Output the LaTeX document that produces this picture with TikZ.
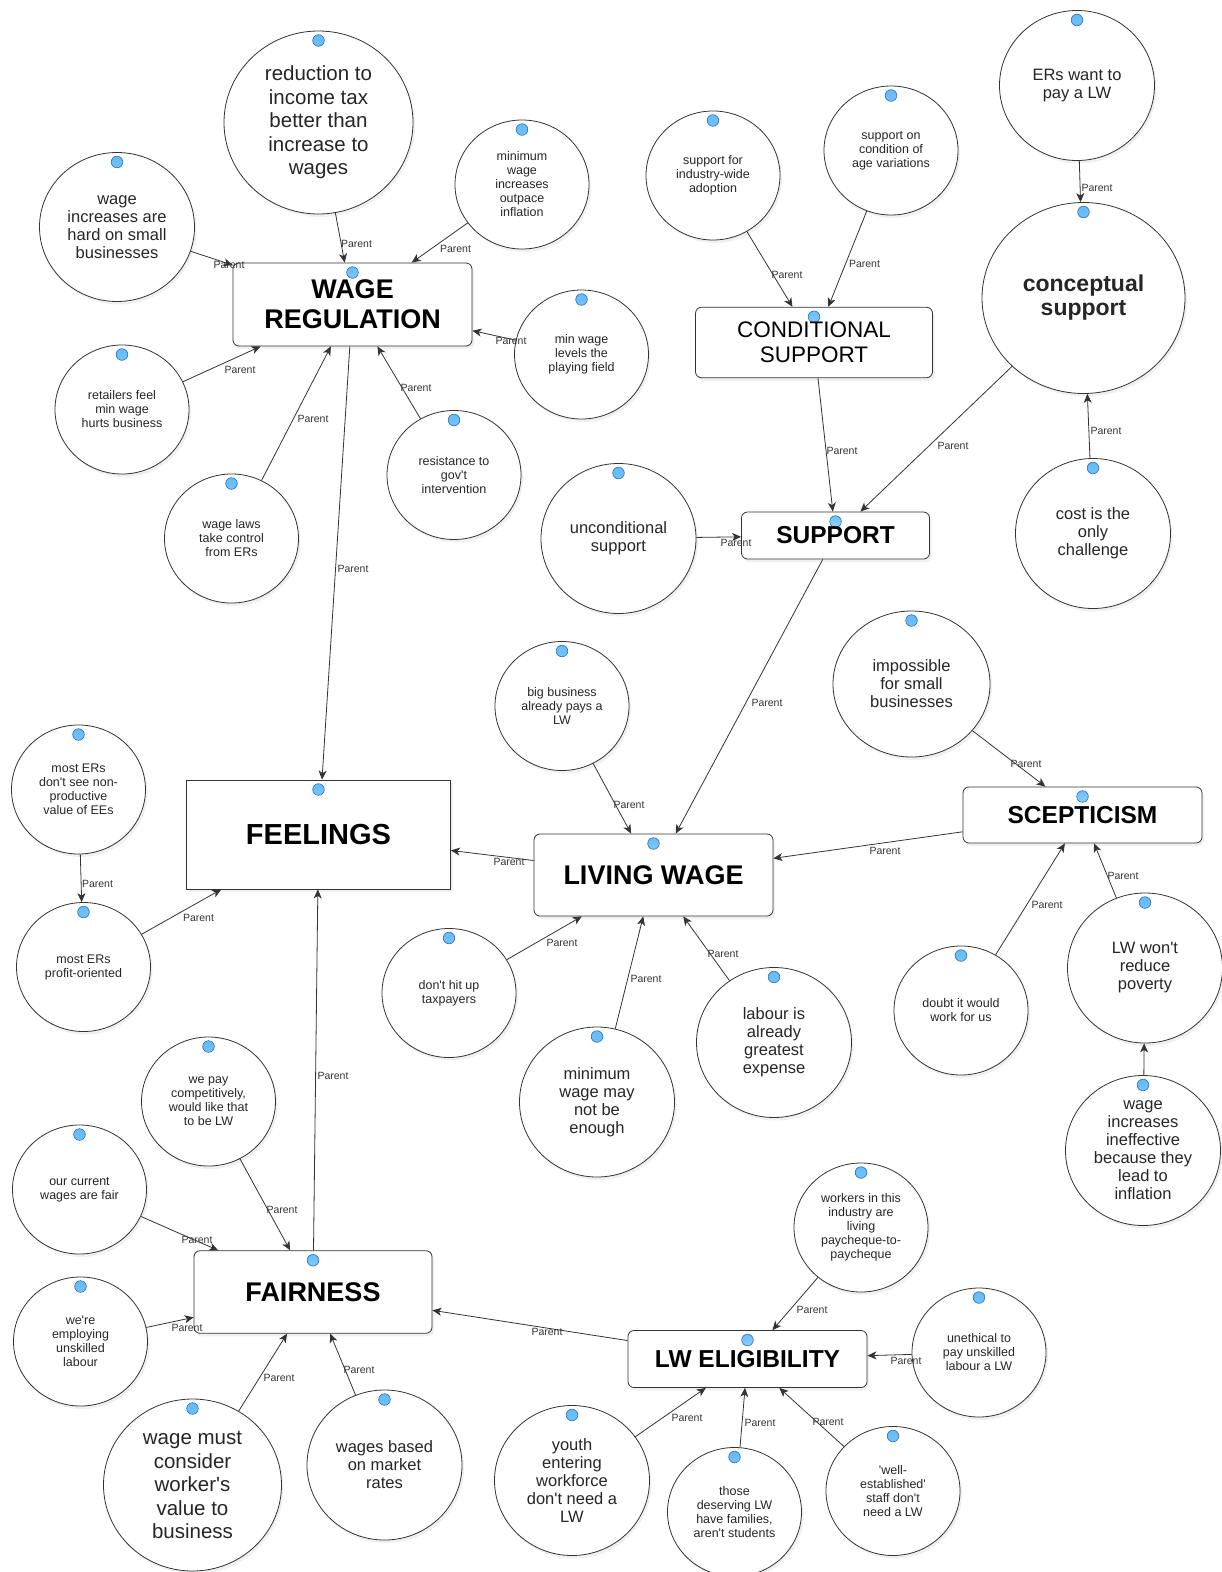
\documentclass[tikz,border=0pt]{standalone}
\usepackage{fontspec}
\setmainfont{Liberation Sans}[Ligatures=TeXOff]
\usetikzlibrary{shapes.geometric, arrows.meta, shadows}
\definecolor{dotblue}{RGB}{95,185,250}
\definecolor{dotrim}{RGB}{40,110,190}
\definecolor{inkgrey}{RGB}{51,51,51}

\begin{document}
\begin{tikzpicture}[x=1pt, y=-1pt]
            \tikzstyle{bead}=[path picture={\shade[draw=dotrim, line width=0.6pt, inner color=white!55!dotblue, outer color=dotblue] ([yshift=-9.5pt]path picture bounding box.north) circle (5.8pt);}]
            \tikzstyle{idea}=[ellipse, draw=inkgrey, line width=0.8pt, fill=white, inner sep=0pt, align=center, text=black!85, bead, drop shadow={shadow xshift=2pt, shadow yshift=-3pt, opacity=0.12}]
            \tikzstyle{smallidea}=[minimum width=134pt, minimum height=129pt, font=\fontsize{12.5}{14}\selectfont]
            \tikzstyle{mididea}=[minimum width=155pt, minimum height=150pt, font=\fontsize{16.5}{18}\selectfont]
            \tikzstyle{bigidea}=[font=\fontsize{20.5}{23.5}\selectfont]
            \tikzstyle{theme}=[rectangle, rounded corners=6pt, draw=inkgrey, line width=0.8pt, fill=white, inner sep=0pt, align=center, bead, drop shadow={shadow xshift=2pt, shadow yshift=-3pt, opacity=0.12}]
            \tikzstyle{link}=[draw=inkgrey, line width=0.8pt, -{Stealth[length=9pt, width=8pt, inset=2.5pt]}]
            \tikzstyle{lbl}=[font=\fontsize{10.5}{12}\selectfont, text=inkgrey, inner sep=0pt]
            \useasboundingbox (0,0) rectangle (1222,1572);

            \node[theme, minimum width=239pt, minimum height=83pt, font=\bfseries\fontsize{27}{30}\selectfont] (wagereg) at (352.5,304.5) {WAGE\\REGULATION};
            \node[idea, bigidea, minimum width=189pt, minimum height=183pt] (taxcut) at (318.5,122.5) {reduction to\\income tax\\better than\\increase to\\wages};
            \node[idea, mididea, minimum height=149pt] (smallbiz) at (117,227) {wage\\increases are\\hard on small\\businesses};
            \node[idea, smallidea] (outpace) at (522,184.5) {minimum\\wage\\increases\\outpace\\inflation};
            \node[idea, smallidea] (levelfield) at (581.5,354.5) {min wage\\levels the\\playing field};
            \node[idea, smallidea] (retailers) at (122,409.5) {retailers feel\\min wage\\hurts business};
            \node[idea, smallidea] (wagelaws) at (231.5,538.5) {wage laws\\take control\\from ERs};
            \node[idea, smallidea] (govt) at (454,475) {resistance to\\gov't\\intervention};

            \node[theme, minimum width=237pt, minimum height=70.5pt, font=\fontsize{22.5}{25}\selectfont] (condsup) at (814,342.5) {CONDITIONAL\\SUPPORT};
            \node[theme, minimum width=188pt, minimum height=47pt, font=\bfseries\fontsize{24.5}{27}\selectfont] (support) at (835.5,535.5) {SUPPORT};
            \node[idea, smallidea] (industry) at (713,175.5) {support for\\industry-wide\\adoption};
            \node[idea, smallidea] (agevar) at (891,150.5) {support on\\condition of\\age variations};
            \node[idea, mididea] (erswant) at (1077,85.5) {ERs want to\\pay a LW};
            \node[idea, minimum width=203pt, minimum height=191pt, font=\bfseries\fontsize{23}{24}\selectfont] (conceptual) at (1083.5,298) {conceptual\\support};
            \node[idea, mididea] (costonly) at (1093,533.5) {cost is the\\only\\challenge};
            \node[idea, mididea] (uncond) at (618.5,538.5) {unconditional\\support};

            \node[theme, minimum width=239pt, minimum height=82pt, font=\bfseries\fontsize{27}{30}\selectfont] (livwage) at (653.5,875) {LIVING WAGE};
            \node[theme, sharp corners, minimum width=264pt, minimum height=109pt, font=\bfseries\fontsize{29}{32}\selectfont] (feelings) at (318.5,834.5) {FEELINGS};
            \node[theme, minimum width=239pt, minimum height=56pt, font=\bfseries\fontsize{24.5}{27}\selectfont] (scept) at (1082.5,815) {SCEPTICISM};
            \node[idea, smallidea] (bigbiz) at (562,706) {big business\\already pays a\\LW};
            \node[idea, mididea, minimum width=157pt, minimum height=146pt] (impossible) at (911.5,684) {impossible\\for small\\businesses};
            \node[idea, smallidea] (nonprod) at (78.5,789.5) {most ERs\\don't see non-\\productive\\value of EEs};
            \node[idea, smallidea] (profit) at (83.5,967) {most ERs\\profit-oriented};
            \node[idea, smallidea] (taxpayers) at (449,993) {don't hit up\\taxpayers};
            \node[idea, mididea] (notenough) at (597,1102) {minimum\\wage may\\not be\\enough};
            \node[idea, mididea] (expense) at (774,1042.5) {labour is\\already\\greatest\\expense};
            \node[idea, smallidea] (doubt) at (961,1010.5) {doubt it would\\work for us};
            \node[idea, mididea] (poverty) at (1145,968) {LW won't\\reduce\\poverty};
            \node[idea, mididea] (inflation) at (1143,1150.5) {wage\\increases\\ineffective\\because they\\lead to\\inflation};

            \node[theme, minimum width=238pt, minimum height=82.5pt, font=\bfseries\fontsize{27}{30}\selectfont] (fairness) at (313,1292) {FAIRNESS};
            \node[theme, minimum width=239pt, minimum height=57pt, font=\bfseries\fontsize{24.5}{27}\selectfont] (lwelig) at (747.5,1359) {LW ELIGIBILITY};
            \node[idea, smallidea] (competitive) at (208.5,1101.5) {we pay\\competitively,\\would like that\\to be LW};
            \node[idea, smallidea] (curfair) at (79.5,1189.5) {our current\\wages are fair};
            \node[idea, smallidea] (unskilled) at (80.5,1341.5) {we're\\employing\\unskilled\\labour};
            \node[idea, bigidea, minimum width=178pt, minimum height=172pt] (workervalue) at (192.5,1485) {wage must\\consider\\worker's\\value to\\business};
            \node[idea, mididea] (market) at (384.5,1465) {wages based\\on market\\rates};
            \node[idea, smallidea] (paycheque) at (861,1227.5) {workers in this\\industry are\\living\\paycheque-to-\\paycheque};
            \node[idea, smallidea] (unethical) at (979,1352.5) {unethical to\\pay unskilled\\labour a LW};
            \node[idea, mididea] (youth) at (572,1480.5) {youth\\entering\\workforce\\don't need a\\LW};
            \node[idea, smallidea] (families) at (734.5,1512) {those\\deserving LW\\have families,\\aren't students};
            \node[idea, smallidea] (established) at (893,1491) {'well-\\established'\\staff don't\\need a LW};

            \draw[link] (taxcut) -- (wagereg) node[lbl] at (356.5,244) {Parent};
            \draw[link] (outpace) -- (wagereg) node[lbl] at (455.5,249) {Parent};
            \draw[link] (smallbiz) -- (wagereg) node[lbl] at (229,265) {Parent};
            \draw[link] (levelfield) -- (wagereg) node[lbl] at (511,341) {Parent};
            \draw[link] (retailers) -- (wagereg) node[lbl] at (240,370) {Parent};
            \draw[link] (wagelaws) -- (wagereg) node[lbl] at (313,419) {Parent};
            \draw[link] (govt) -- (wagereg) node[lbl] at (416,388) {Parent};
            \draw[link] (wagereg) -- (feelings) node[lbl] at (353,569) {Parent};

            \draw[link] (industry) -- (condsup) node[lbl] at (787,275) {Parent};
            \draw[link] (agevar) -- (condsup) node[lbl] at (864.5,264) {Parent};
            \draw[link] (erswant) -- (conceptual) node[lbl] at (1097,187.5) {Parent};
            \draw[link] (conceptual) -- (support) node[lbl] at (953,446) {Parent};
            \draw[link] (condsup) -- (support) node[lbl] at (842,451) {Parent};
            \draw[link] (costonly) -- (conceptual) node[lbl] at (1106,431) {Parent};
            \draw[link] (uncond) -- (support) node[lbl] at (736,543) {Parent};
            \draw[link] (support) -- (livwage) node[lbl] at (767,703) {Parent};

            \draw[link] (bigbiz) -- (livwage) node[lbl] at (629,805) {Parent};
            \draw[link] (impossible) -- (scept) node[lbl] at (1026,764) {Parent};
            \draw[link] (scept) -- (livwage) node[lbl] at (885,851) {Parent};
            \draw[link] (livwage) -- (feelings) node[lbl] at (509,862) {Parent};
            \draw[link] (taxpayers) -- (livwage) node[lbl] at (562,943) {Parent};
            \draw[link] (notenough) -- (livwage) node[lbl] at (646,979) {Parent};
            \draw[link] (expense) -- (livwage) node[lbl] at (723,954) {Parent};
            \draw[link] (doubt) -- (scept) node[lbl] at (1047,905) {Parent};
            \draw[link] (poverty) -- (scept) node[lbl] at (1123,876) {Parent};
            \draw[link] (inflation) -- (poverty);
            \draw[link] (nonprod) -- (profit) node[lbl] at (97.5,884) {Parent};
            \draw[link] (profit) -- (feelings) node[lbl] at (198.5,918) {Parent};

            \draw[link] (fairness) -- (feelings) node[lbl] at (333,1076) {Parent};
            \draw[link] (competitive) -- (fairness) node[lbl] at (282,1210) {Parent};
            \draw[link] (curfair) -- (fairness) node[lbl] at (197,1240) {Parent};
            \draw[link] (unskilled) -- (fairness) node[lbl] at (187,1328) {Parent};
            \draw[link] (workervalue) -- (fairness) node[lbl] at (279,1378) {Parent};
            \draw[link] (market) -- (fairness) node[lbl] at (359,1370) {Parent};
            \draw[link] (lwelig) -- (fairness) node[lbl] at (547,1332) {Parent};
            \draw[link] (paycheque) -- (lwelig) node[lbl] at (812,1310) {Parent};
            \draw[link] (unethical) -- (lwelig) node[lbl] at (906,1360.5) {Parent};
            \draw[link] (youth) -- (lwelig) node[lbl] at (687,1418) {Parent};
            \draw[link] (families) -- (lwelig) node[lbl] at (760,1423) {Parent};
            \draw[link] (established) -- (lwelig) node[lbl] at (828,1422) {Parent};
        \end{tikzpicture}
\end{document}
